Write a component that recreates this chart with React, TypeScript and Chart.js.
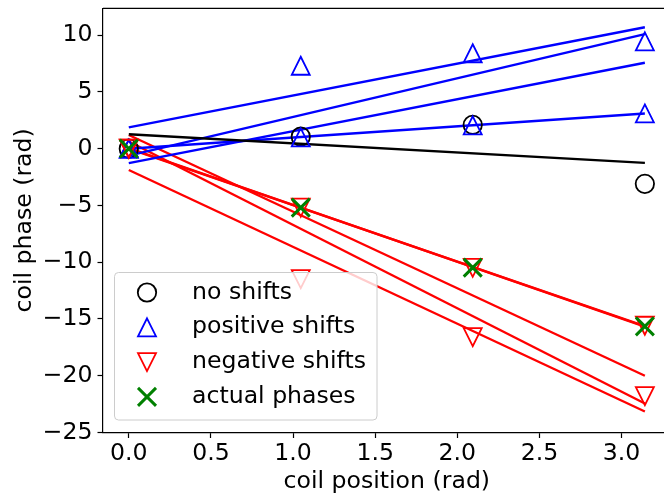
import React, { useEffect, useRef } from 'react';
import Chart from 'chart.js/auto';

const coilPositions = [0, 1.047, 2.094, 3.142];
const noShifts = [0.0, 1.05, 2.1, -3.1];
const positiveShiftsA = [0.0, 7.3, 8.4, 9.45];
const positiveShiftsB = [0.0, 1.0, 2.05, 3.1];
const negativeShiftsA = [0.0, -5.2, -10.5, -15.6];
const negativeShiftsB = [0.0, -11.5, -16.6, -21.8];
const actualPhases = [0.0, -5.2, -10.48, -15.65];

const fitX = [0, 3.142];
const noShiftFit = [[1.27, -1.25]];
const positiveFits = [[1.87, 10.69], [-0.62, 10.08], [-1.28, 7.56], [-0.01, 3.1]];
const negativeFits = [[0.0, -15.63], [0.05, -15.68], [1.2, -20.0], [0.63, -22.45], [-1.88, -23.15]];

const xTicks = [0, 0.5, 1.0, 1.5, 2.0, 2.5, 3.0];
const yTicks = [-25, -20, -15, -10, -5, 0, 5, 10];
const legendLabels = ['no shifts', 'positive shifts', 'negative shifts', 'actual phases'];

const FONT = '"DejaVu Sans", sans-serif';
const FS = 23.6;

const MARKER_STYLE: Record<string, string> = {
  circle: '#000000',
  up: '#0000ff',
  down: '#ff0000',
  x: '#008000',
};

function drawMarker(ctx: CanvasRenderingContext2D, kind: string, x: number, y: number) {
  const h = 9;
  ctx.save();
  ctx.strokeStyle = MARKER_STYLE[kind];
  ctx.lineWidth = kind === 'x' ? 3 : 1.8;
  ctx.lineJoin = 'miter';
  ctx.lineCap = 'butt';
  ctx.beginPath();
  if (kind === 'circle') {
    ctx.arc(x, y, 9.2, 0, Math.PI * 2);
  } else if (kind === 'up') {
    ctx.moveTo(x, y - h);
    ctx.lineTo(x + h, y + h);
    ctx.lineTo(x - h, y + h);
    ctx.closePath();
  } else if (kind === 'down') {
    ctx.moveTo(x, y + h);
    ctx.lineTo(x - h, y - h);
    ctx.lineTo(x + h, y - h);
    ctx.closePath();
  } else {
    ctx.moveTo(x - h, y - h);
    ctx.lineTo(x + h, y + h);
    ctx.moveTo(x - h, y + h);
    ctx.lineTo(x + h, y - h);
  }
  ctx.stroke();
  ctx.restore();
}

const fmtY = (v: number) => (v < 0 ? '\u2212' + Math.abs(v) : String(v));

export default function App() {
  const ref = useRef<HTMLCanvasElement | null>(null);

  useEffect(() => {
    if (!ref.current) return;
    const legendKinds = ['circle', 'up', 'down', 'x'];

    const pts = (ys: number[]) => ys.map((y, i) => ({ x: coilPositions[i], y }));
    const fitLine = (pair: number[], color: string) => ({
      data: fitX.map((x, i) => ({ x, y: pair[i] })),
      borderColor: color,
      backgroundColor: color,
      borderWidth: 2.4,
      pointRadius: 0,
      showLine: true,
      fill: false,
      tension: 0,
    });
    const markers = (ys: number[], kind: string) => ({
      data: pts(ys),
      markerKind: kind,
      pointRadius: 0,
      showLine: false,
    });

    const datasets: any[] = [
      ...noShiftFit.map((p) => fitLine(p, '#000000')),
      ...positiveFits.map((p) => fitLine(p, '#0000ff')),
      ...negativeFits.map((p) => fitLine(p, '#ff0000')),
      markers(noShifts, 'circle'),
      markers(positiveShiftsA, 'up'),
      markers(positiveShiftsB, 'up'),
      markers(negativeShiftsA, 'down'),
      markers(negativeShiftsB, 'down'),
      markers(actualPhases, 'x'),
    ];

    const markerPlugin = {
      id: 'mplMarkers',
      afterDatasetsDraw(chart: any) {
        const { ctx, chartArea } = chart;
        ctx.save();
        ctx.beginPath();
        ctx.rect(chartArea.left, chartArea.top, chartArea.right - chartArea.left, chartArea.bottom - chartArea.top);
        ctx.clip();
        chart.data.datasets.forEach((ds: any, i: number) => {
          if (!ds.markerKind) return;
          const meta = chart.getDatasetMeta(i);
          meta.data.forEach((el: any) => drawMarker(ctx, ds.markerKind, el.x, el.y));
        });
        ctx.restore();
      },
    };

    const framePlugin = {
      id: 'frame',
      afterDraw(chart: any) {
        const { ctx, chartArea } = chart;
        ctx.save();
        ctx.strokeStyle = '#000';
        ctx.lineWidth = 1.2;
        ctx.beginPath();
        ctx.moveTo(chartArea.left, chartArea.top);
        ctx.lineTo(chartArea.right, chartArea.top);
        ctx.stroke();
        ctx.restore();

        // legend
        ctx.save();
        const x0 = 114.5, y0 = 272.5, w = 262.5, h = 147.5;
        ctx.beginPath();
        ctx.roundRect(x0, y0, w, h, 4);
        ctx.fillStyle = 'rgba(255,255,255,0.8)';
        ctx.fill();
        ctx.strokeStyle = '#cccccc';
        ctx.lineWidth = 1;
        ctx.stroke();
        ctx.font = FS + 'px ' + FONT;
        ctx.fillStyle = '#000';
        ctx.textBaseline = 'middle';
        ctx.textAlign = 'left';
        legendLabels.forEach((label, i) => {
          const cy = 292.5 + i * 34.8;
          drawMarker(ctx, legendKinds[i], 147, cy);
          ctx.fillText(label, 192, cy);
        });
        ctx.restore();
      },
    };

    const chart = new Chart(ref.current, {
      type: 'scatter',
      data: { datasets },
      plugins: [markerPlugin, framePlugin],
      options: {
        animation: false,
        responsive: false,
        devicePixelRatio: 1,
        events: [],
        layout: { padding: { left: 0, top: 8.3, right: 9.4, bottom: 0 } },
        plugins: { legend: { display: false }, tooltip: { enabled: false } },
        scales: {
          x: {
            type: 'linear',
            min: -0.157,
            max: 3.2987,
            afterFit: (s: any) => { s.height = 62.5; s.paddingLeft = 0; s.paddingRight = 0; },
            afterBuildTicks: (s: any) => { s.ticks = xTicks.map((v) => ({ value: v })); },
            ticks: {
              callback: (v: any) => Number(v).toFixed(1),
              font: { family: FONT, size: FS },
              color: '#000',
              padding: 2,
              maxRotation: 0,
            },
            grid: { drawOnChartArea: false, drawTicks: true, tickLength: 5.5, color: '#000', tickWidth: 1.2 },
            border: { display: true, color: '#000', width: 1.2 },
            title: {
              display: true,
              text: 'coil position (rad)',
              font: { family: FONT, size: FS, lineHeight: 1.1 },
              color: '#000',
              padding: { top: 0, bottom: 0 },
            },
          },
          y: {
            type: 'linear',
            min: -25,
            max: 12.36,
            afterFit: (s: any) => { s.width = 103; s.paddingTop = 0; s.paddingBottom = 0; },
            afterBuildTicks: (s: any) => { s.ticks = yTicks.map((v) => ({ value: v })); },
            ticks: {
              callback: (v: any) => fmtY(Number(v)),
              font: { family: FONT, size: FS },
              color: '#000',
              padding: 5,
            },
            grid: { drawOnChartArea: false, drawTicks: true, tickLength: 5.5, color: '#000', tickWidth: 1.2 },
            border: { display: true, color: '#000', width: 1.2 },
            title: {
              display: true,
              text: 'coil phase (rad)',
              font: { family: FONT, size: FS, lineHeight: 1.1 },
              color: '#000',
              padding: { top: 12, bottom: 0 },
            },
          },
        },
      } as any,
    });
    return () => chart.destroy();
  }, []);

  return (
    <div style={{ position: 'absolute', left: 0, top: 0, width: 664, height: 495, overflow: 'hidden', background: '#fff' }}>
      <canvas ref={ref} width={680} height={495} style={{ display: 'block' }} />
    </div>
  );
}
